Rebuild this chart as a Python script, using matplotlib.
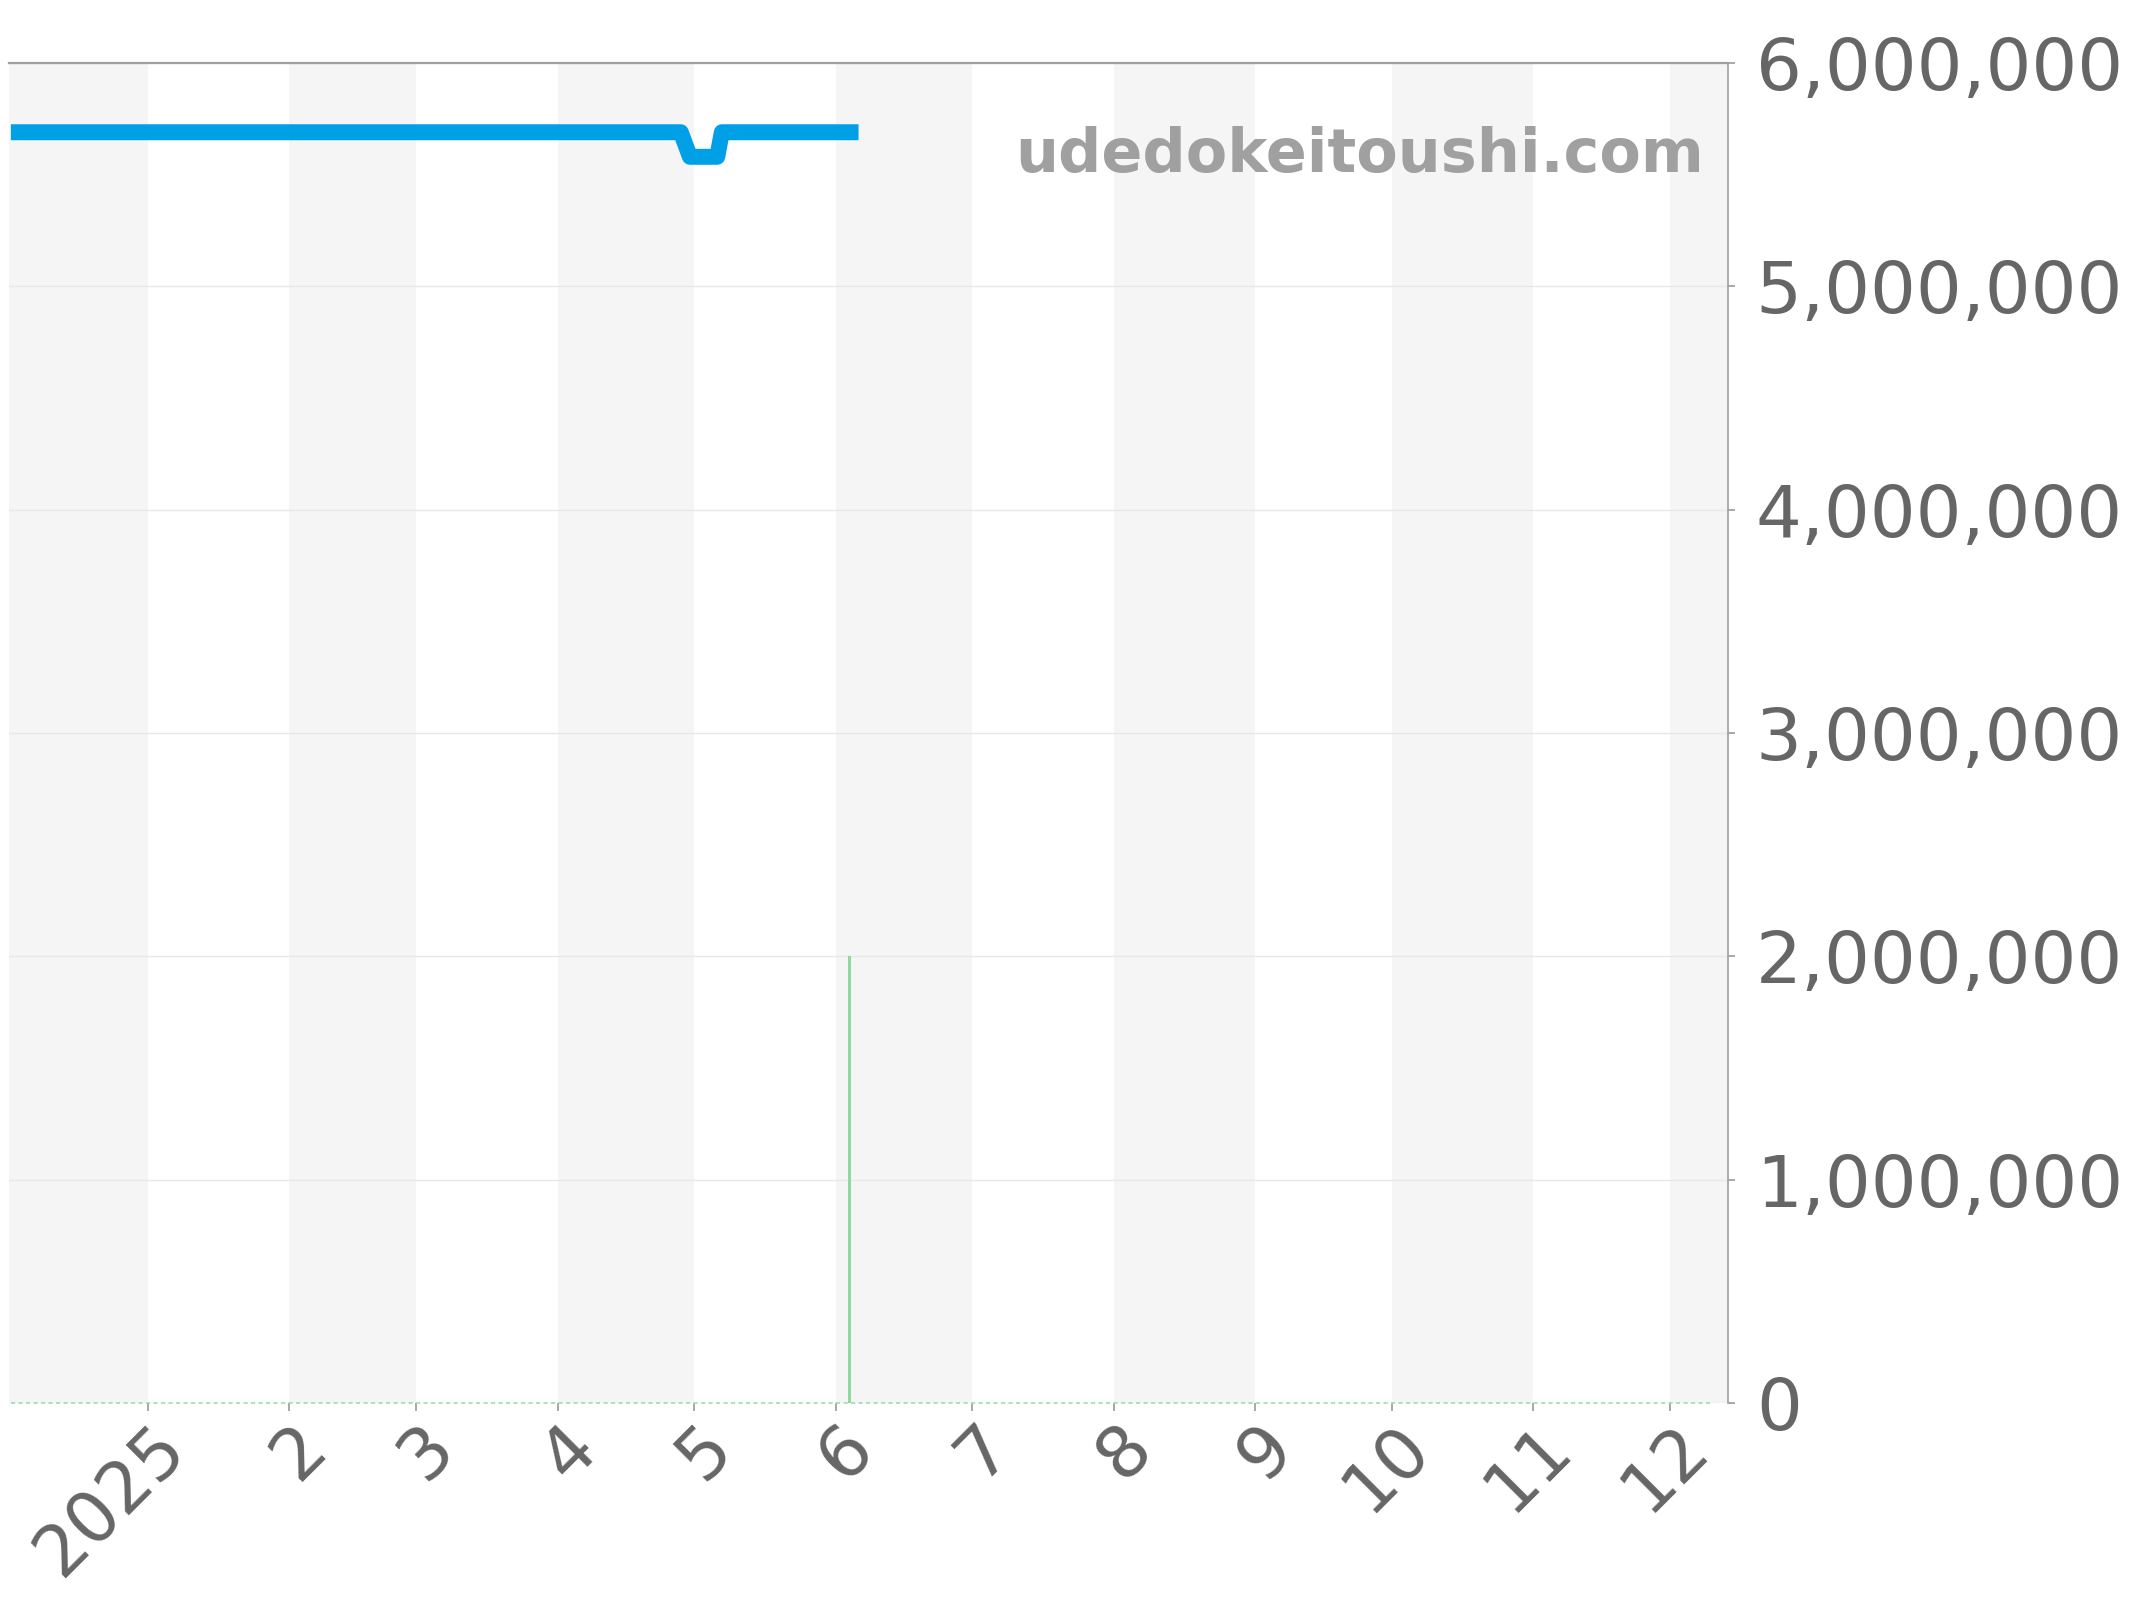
import numpy as np
import pandas as pd
import matplotlib
matplotlib.use('Agg')
import matplotlib.pyplot as plt
import matplotlib.dates as mdates
import matplotlib.transforms as mtransforms
from matplotlib.ticker import FuncFormatter

# price series (blue line)
price_dates = ['2024-12-02', '2025-04-28', '2025-04-30', '2025-05-06', '2025-05-07', '2025-06-06']
price_values = [5690000, 5690000, 5580000, 5580000, 5690000, 5690000]

# volume series (green)
volume_dates = ['2025-06-04']
volume_values = [2000000]
baseline_dates = ['2024-12-02', '2025-12-10']
baseline_values = [0, 0]

# x ticks
tick_dates = ['2025-01-01', '2025-02-01', '2025-03-01', '2025-04-01', '2025-05-01', '2025-06-01',
              '2025-07-01', '2025-08-01', '2025-09-01', '2025-10-01', '2025-11-01', '2025-12-01']
tick_labels = ['2025', '2', '3', '4', '5', '6', '7', '8', '9', '10', '11', '12']
y_ticks = [0, 1000000, 2000000, 3000000, 4000000, 5000000, 6000000]

x_start = pd.Timestamp('2024-12-01 14:00')
x_end = pd.Timestamp('2025-12-13 19:00')

fig = plt.figure(figsize=(21.44, 16), dpi=100)
ax = fig.add_axes([9 / 2144, 1 - 1403 / 1600, (1728 - 9) / 2144, (1403 - 63) / 1600])

# alternating month bands
months = pd.date_range('2024-12-01', '2026-01-01', freq='MS')
for i in range(len(months) - 1):
    if i % 2 == 0:
        ax.axvspan(months[i], months[i + 1], color='#f5f5f5', lw=0, zorder=0)

ax.grid(axis='y', color='#e8e8e8', lw=1.0, zorder=1)
ax.set_axisbelow(True)

# green volume
ax.plot(pd.to_datetime(baseline_dates), baseline_values, color='#9fdcae', lw=1.2,
        dashes=(2.5, 2), zorder=2, clip_on=False)
ax.bar(pd.to_datetime(volume_dates), volume_values, width=0.65, color='#8fd8a0', zorder=2)

# blue price line
ax.plot(pd.to_datetime(price_dates), price_values, color='#00a0e6', lw=11.5,
        solid_joinstyle='round', solid_capstyle='butt', zorder=3)

ax.set_xlim(x_start, x_end)
ax.set_ylim(0, 6000000)

ax.yaxis.tick_right()
ax.set_yticks(y_ticks)
ax.yaxis.set_major_formatter(FuncFormatter(lambda v, p: f'{int(v):,}'))
ax.tick_params(axis='y', labelsize=52, labelcolor='#666666', color='#999999',
               length=5, width=1.2, pad=15)

ax.set_xticks(pd.to_datetime(tick_dates))
ax.set_xticklabels(tick_labels)
ax.tick_params(axis='x', labelsize=51, labelcolor='#666666', color='#999999',
               length=6, width=1.2, pad=14)
shift = mtransforms.ScaledTranslation(27 / 100, -6 / 100, fig.dpi_scale_trans)
for lbl in ax.get_xticklabels():
    lbl.set_rotation(45)
    lbl.set_rotation_mode('anchor')
    lbl.set_ha('right')
    lbl.set_va('center')
    lbl.set_transform(lbl.get_transform() + shift)

for side in ['left', 'bottom']:
    ax.spines[side].set_visible(False)
ax.spines['top'].set_color('#a0a0a0')
ax.spines['top'].set_linewidth(1.6)
ax.spines['right'].set_color('#a0a0a0')
ax.spines['right'].set_linewidth(1.2)

ax.text(0.986, 0.9187, 'udedokeitoushi.com', transform=ax.transAxes, ha='right',
        va='baseline', fontsize=43.5, fontweight='bold', color='#a0a0a0', zorder=4)

fig.savefig('out.png', dpi=100, facecolor='white')
